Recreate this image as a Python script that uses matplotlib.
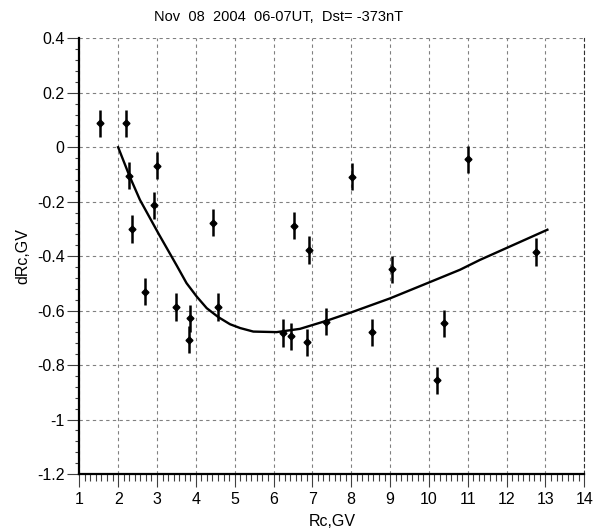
#!/usr/bin/env python
"""dRc vs Rc scatter with error bars and fitted curve"""

import matplotlib
matplotlib.use('Agg')
import matplotlib.pyplot as plt
from matplotlib.ticker import MultipleLocator, FuncFormatter

# measured points
rc = [1.53, 2.20, 2.29, 2.35, 2.69, 2.92, 3.01, 3.49, 3.82, 3.85, 4.45, 4.58,
      6.25, 6.44, 6.53, 6.85, 6.92, 7.35, 8.01, 8.53, 9.06, 10.21, 10.40, 11.00, 12.76]
drc = [0.088, 0.088, -0.105, -0.300, -0.530, -0.214, -0.068, -0.587, -0.707, -0.628, -0.277, -0.587,
       -0.682, -0.695, -0.288, -0.717, -0.377, -0.640, -0.108, -0.679, -0.448, -0.856, -0.646, -0.044, -0.385]
drc_err = [0.05] * len(rc)

# model curve
curve_rc = [2.0, 2.29, 2.56, 3.05, 3.25, 3.51, 3.76, 4.02, 4.28, 4.58, 4.88, 5.14, 5.48, 6.08,
            6.68, 7.37, 8.01, 9.0, 10.03, 10.8, 11.31, 13.05]
curve_drc = [0.0, -0.105, -0.193, -0.32, -0.37, -0.435, -0.499, -0.548, -0.591, -0.624, -0.650, -0.664,
             -0.677, -0.679, -0.667, -0.637, -0.606, -0.555, -0.495, -0.45, -0.414, -0.303]

title = "Nov  08  2004  06-07UT,  Dst= -373nT"

plt.rcParams['font.family'] = ['Liberation Sans', 'DejaVu Sans']
plt.rcParams['axes.unicode_minus'] = False

W, H = 605, 531
fig = plt.figure(figsize=(W / 100, H / 100), dpi=100)
left, right, top, bottom = 79.3, 584.3, 38.3, 474
ax = fig.add_axes([left / W, 1 - bottom / H, (right - left) / W, (bottom - top) / H])

#curve and points
ax.plot(curve_rc, curve_drc, color='black', linewidth=1.7, zorder=3, solid_joinstyle='round')
ax.errorbar(rc, drc, yerr=drc_err, fmt='D', color='black', markersize=3.5,
            elinewidth=1.8, capsize=0, zorder=4)

ax.set_xlim(1, 14)
ax.set_ylim(-1.2, 0.4)
ax.xaxis.set_major_locator(MultipleLocator(1))
ax.xaxis.set_minor_locator(MultipleLocator(1 / 7))
ax.yaxis.set_major_locator(MultipleLocator(0.2))
ax.yaxis.set_minor_locator(MultipleLocator(0.04))
ax.yaxis.set_major_formatter(FuncFormatter(lambda v, p: '{:g}'.format(round(v, 2))))

ax.tick_params(axis='both', which='major', direction='out', length=9, width=0.8,
               labelsize=11.5, color='#404040')
ax.tick_params(axis='y', which='major', pad=1.5)
ax.tick_params(axis='x', which='major', pad=4)
ax.tick_params(axis='y', which='minor', direction='out', length=3, width=0.8, color='#404040')
ax.tick_params(axis='x', which='minor', direction='out', length=5, width=0.8, color='#404040')

# grid and frame
ax.grid(True, which='major', color='#808080', linestyle=(0, (3, 3)), linewidth=0.8)
ax.spines['top'].set_visible(False)
ax.spines['right'].set_linestyle((0, (3, 3)))
ax.spines['right'].set_color('#303030')
ax.spines['right'].set_linewidth(0.8)
ax.spines['left'].set_linewidth(1.6)
ax.spines['bottom'].set_linewidth(1.6)

ax.set_xlabel('Rc,GV', fontsize=11.5)
ax.set_ylabel('dRc,GV', fontsize=11.5)
ax.xaxis.set_label_coords(0.5, -(514 - bottom) / (bottom - top))
ax.yaxis.set_label_coords(-(79.3 - 30) / (right - left), 0.5)

fig.text(279 / W, 1 - 17 / H, title, ha='center', va='center', fontsize=10.5)

fig.savefig('out.png', dpi=100)
